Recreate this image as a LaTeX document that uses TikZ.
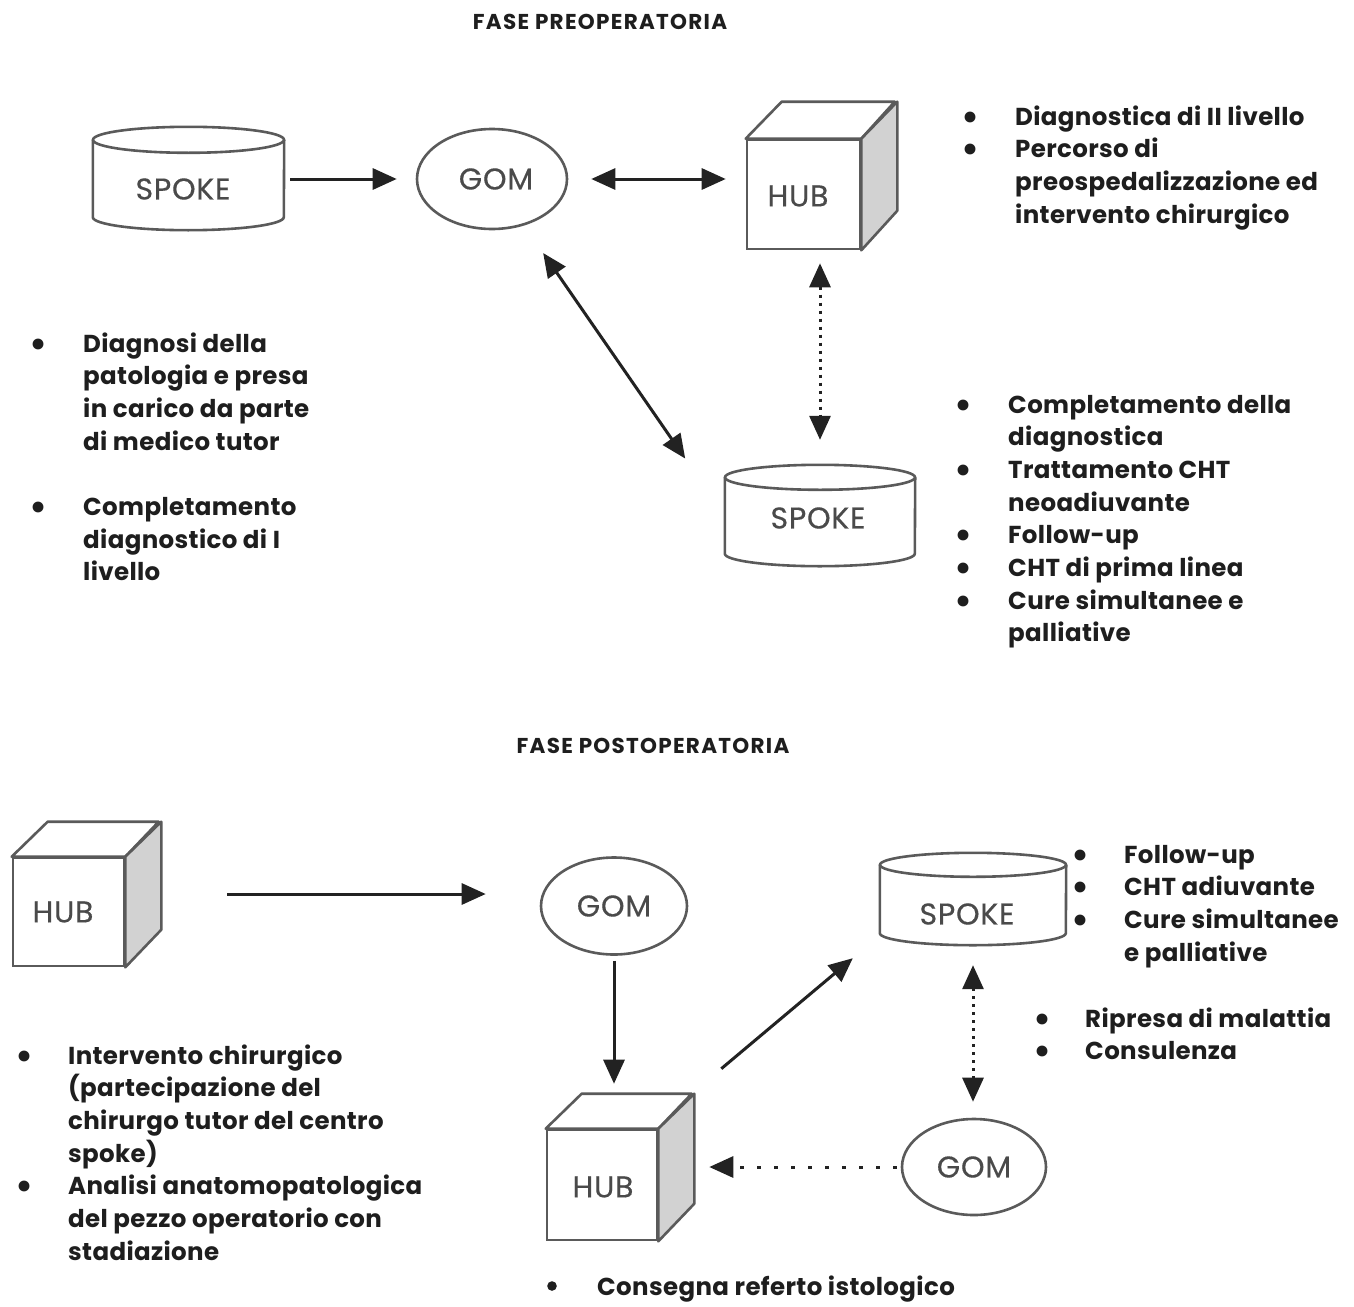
\documentclass[tikz,border=0pt]{standalone}
\usepackage{fontspec}
\setmainfont{Poppins}
\newfontfamily\bodyfont[LetterSpace=1.5]{Poppins}
\newfontfamily\titlefont[LetterSpace=6]{Poppins}
\newfontfamily\lblfont[LetterSpace=2.5,FakeBold=0.4]{Poppins}
\usetikzlibrary{arrows.meta,shapes.geometric,calc}
\definecolor{shapecol}{HTML}{5A5A5A}
\definecolor{arrcol}{HTML}{222222}
\definecolor{labelcol}{HTML}{4A4A4A}
\definecolor{sidecol}{HTML}{D2D2D2}
\definecolor{textcol}{HTML}{1E1E1E}
\newcommand\bul{\makebox[16pt][c]{\raisebox{-4pt}[0pt][0pt]{\fontsize{36}{0}\selectfont\textbullet}}}
% cube: name, cx, cy, w, h, dx, dy, text x, text y
\newcommand\drawcube[9]{%
  \node[shp, fill=white, minimum width=#4pt, minimum height=#5pt, inner sep=0pt] (#1) at (#2,#3) {};
  \draw[shp, fill=white, line join=round] (#1.north west) -- ++(#6,-#7) -- ++(#4,0) -- (#1.north east) -- cycle;
  \draw[shp, fill=sidecol, line join=round] (#1.north east) -- ++(#6,-#7) -- ++(0,#5) -- (#1.south east) -- cycle;
  \node[lbl] (#1t) at (#8,#9) {HUB};
}
% cylinder: name, cx, cy, w, h, ry, text x, text y
\newcommand\drawcyl[8]{%
  \node[minimum width=#4pt, minimum height=#5pt, inner sep=0pt] (#1) at (#2,#3) {};
  \draw[shp] ([yshift=#6pt]#1.north) ellipse [x radius=#4/2, y radius=#6];
  \draw[shp, line join=round] ([yshift=#6pt]#1.north west) -- ([yshift=#6pt]#1.south west) arc[start angle=180, end angle=0, x radius=#4/2, y radius=#6] -- ([yshift=#6pt]#1.north east);
  \node[lbl] (#1t) at (#7,#8) {SPOKE};
}
\begin{document}
\begin{tikzpicture}[x=1pt,y=-1pt,
  shp/.style={draw=shapecol, line width=2.6pt},
  lbl/.style={font=\lblfont\fontsize{30}{30}\selectfont, text=labelcol, inner sep=0pt},
  gom/.style={shp, ellipse, inner sep=0pt},
  arr/.style={draw=arrcol, line width=3pt, -{Triangle[length=24pt,width=21pt]}},
  darr/.style={draw=arrcol, line width=3pt, {Triangle[length=24pt,width=21pt]}-{Triangle[length=24pt,width=21pt]}},
  vdot/.style={dash pattern=on 3pt off 5pt},
  hdot/.style={dash pattern=on 4pt off 13pt},
  txt/.style={font=\bodyfont\fontsize{24.5}{32.7}\selectfont\bfseries, text=textcol, inner sep=0pt, anchor=base west},
  ttl/.style={font=\titlefont\fontsize{21.5}{22}\selectfont\bfseries, text=textcol, inner sep=0pt}]
\fill[white] (0,0) rectangle (1354,1306);
\useasboundingbox (0,0) rectangle (1354,1306);

% titles
\node[ttl] (t1) at (600,22) {FASE PREOPERATORIA};
\node[ttl] (t2) at (653,746) {FASE POSTOPERATORIA};

% ---- preoperative ----
\drawcyl{sp1}{188.5}{191.5}{191}{77}{13}{183}{189}
\node[gom, minimum width=150pt, minimum height=100pt] (gom1) at (492,179) {};
\node[lbl] (gom1t) at (496,179) {GOM};
\drawcube{hub1}{803.5}{194.5}{113}{109}{36}{37}{798}{196}
\drawcyl{sp2}{820}{528}{190}{76}{12.5}{818}{518}

\draw[arr, shorten <=6pt, shorten >=19pt] (sp1.east |- gom1.west) -- (gom1.west);
\draw[darr, shorten <=23pt, shorten >=20pt] (gom1.east) -- (gom1.east -| hub1.west);
\draw[darr, vdot, shorten <=13pt, shorten >=50pt] (sp2.north |- hub1.south) -- (sp2.north);
\draw[darr, shorten <=90pt, shorten >=38pt] (gom1.center) -- ([xshift=-18pt]sp2.north west);

\node[txt] (n1) at (962,125) {\begin{tabular}[t]{@{}p{53pt}@{}l@{}}
\bul & Diagnostica di II livello\\
\bul & Percorso di\\
 & preospedalizzazione ed\\
 & intervento chirurgico\end{tabular}};
\node[txt] (n2) at (30,352) {\begin{tabular}[t]{@{}p{53pt}@{}l@{}}
\bul & Diagnosi della\\
 & patologia e presa\\
 & in carico da parte\\
 & di medico tutor\\
 & \\
\bul & Completamento\\
 & diagnostico di I\\
 & livello\end{tabular}};
\node[txt] (n3) at (955,413) {\begin{tabular}[t]{@{}p{53pt}@{}l@{}}
\bul & Completamento della\\
 & diagnostica\\
\bul & Trattamento CHT\\
 & neoadiuvante\\
\bul & Follow-up\\
\bul & CHT di prima linea\\
\bul & Cure simultanee e\\
 & palliative\end{tabular}};

% ---- postoperative ----
\drawcube{hub2}{68.5}{912}{111}{108}{36}{35}{63}{912}
\node[gom, minimum width=146pt, minimum height=97pt] (gom2) at (614,906) {};
\node[lbl] (gom2t) at (614,906) {GOM};
\drawcube{hub3}{602}{1185}{110}{110}{36}{35}{603}{1187}
\drawcyl{sp3}{973}{911}{186}{68}{12}{967}{914}
\node[gom, minimum width=144pt, minimum height=96pt] (gom3) at (974,1167) {};
\node[lbl] (gom3t) at (974,1167) {GOM};

\draw[arr, shorten <=102pt, shorten >=54pt] ([yshift=12pt]gom2.west -| hub2.east) -- ([yshift=12pt]gom2.west);
\draw[arr, shorten <=5pt, shorten >=45pt] (gom2.south) -- (gom2.south |- hub3.north);
\draw[arr] ([xshift=63pt,yshift=60pt]hub3.north east) -- ([xshift=-27pt,yshift=-13pt]sp3.south west);
\draw[darr, vdot, shorten <=20pt, shorten >=16pt] (sp3.south) -- (sp3.south |- gom3.north);
\draw[arr, hdot, shorten <=4pt, shorten >=51pt] (gom3.west) -- (gom3.west -| hub3.east);

\node[txt] (n4) at (1072,863) {\begin{tabular}[t]{@{}p{52pt}@{}l@{}}
\bul & Follow-up\\
\bul & CHT adiuvante\\
\bul & Cure simultanee\\
 & e palliative\end{tabular}};
\node[txt] (n5) at (1034,1027) {\begin{tabular}[t]{@{}p{51pt}@{}l@{}}
\bul & Ripresa di malattia\\
\bul & Consulenza\end{tabular}};
\node[txt] (n6) at (16,1064) {\begin{tabular}[t]{@{}p{52pt}@{}l@{}}
\bul & Intervento chirurgico\\
 & (partecipazione del\\
 & chirurgo tutor del centro\\
 & spoke)\\
\bul & Analisi anatomopatologica\\
 & del pezzo operatorio con\\
 & stadiazione\end{tabular}};
\fill[textcol] (552,1286) circle (4.8);
\node[txt] (n7) at (597,1295) {Consegna referto istologico};
\end{tikzpicture}
\end{document}
